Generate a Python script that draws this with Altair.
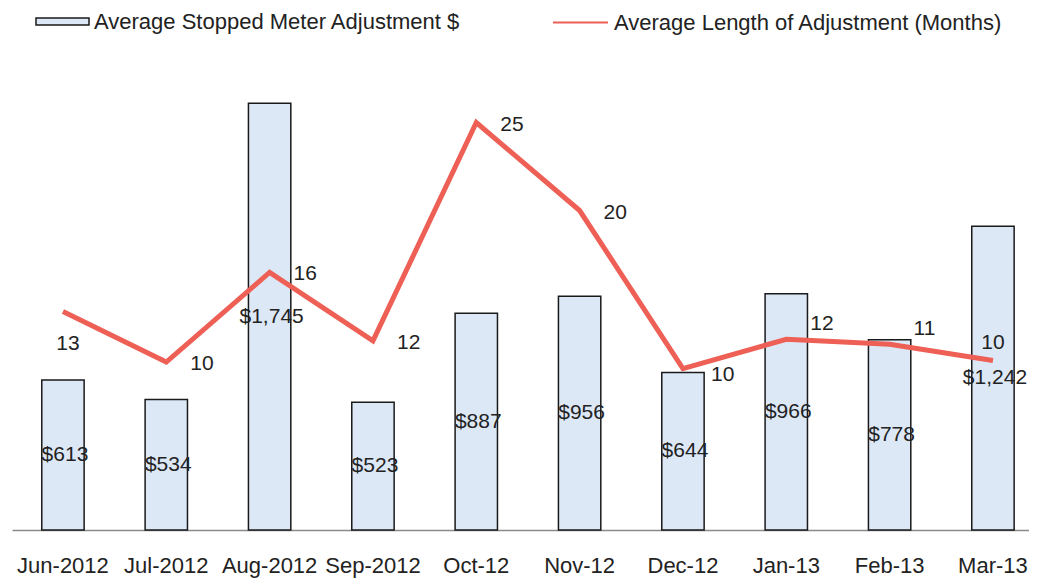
import altair as alt
import pandas as pd

months = ["Jun-2012", "Jul-2012", "Aug-2012", "Sep-2012", "Oct-12",
          "Nov-12", "Dec-12", "Jan-13", "Feb-13", "Mar-13"]
adjustment = [613, 534, 1745, 523, 887, 956, 644, 966, 778, 1242]
length_months = [13.4, 10.3, 15.8, 11.6, 25.0, 19.6, 9.9, 11.7, 11.4, 10.4]

bar_name = "Average Stopped Meter Adjustment $"
line_name = "Average Length of Adjustment (Months)"

df = pd.DataFrame({"month": months, "adj": adjustment, "len": length_months})

FONT = "Liberation Sans"
TXT = "#222222"

x = alt.X("month:N", sort=months,
          scale=alt.Scale(paddingInner=0.59, paddingOuter=0.216, align=0.667),
          axis=alt.Axis(title=None, labelAngle=0, ticks=False, domainColor="#8a8a8a",
                        domainWidth=1.5, labelFontSize=22, labelPadding=25,
                        labelColor=TXT, labelFont=FONT, grid=False))

base = alt.Chart(df)

bars = base.transform_calculate(series=f"'{bar_name}'").mark_bar(
    stroke="#1a1a1a", strokeWidth=1.5
).encode(
    x=x,
    y=alt.Y("adj:Q", scale=alt.Scale(domain=[0, 2000], nice=False), axis=None),
    fill=alt.Fill("series:N", scale=alt.Scale(range=["#DDE8F7"]),
                  legend=alt.Legend(title=None, orient="none", legendX=23, legendY=-47,
                                    symbolType="M-1,-0.13L1,-0.13L1,0.13L-1,0.13Z",
                                    symbolSize=2809, symbolStrokeColor="#1a1a1a",
                                    symbolStrokeWidth=1.5, labelFontSize=22,
                                    labelFont=FONT, labelColor=TXT, labelOffset=4,
                                    labelLimit=600)),
)

bar_labels = base.transform_calculate(mid="datum.adj / 2").mark_text(
    fontSize=21, font=FONT, color=TXT, align="center", baseline="middle", dx=2
).encode(
    x=alt.X("month:N", sort=months),
    y=alt.Y("mid:Q", scale=alt.Scale(domain=[0, 2000], nice=False), axis=None),
    text=alt.Text("adj:Q", format="$,.0f"),
)

bar_layer = alt.layer(bars, bar_labels)

line = base.transform_calculate(series2=f"'{line_name}'").mark_line(
    strokeWidth=5
).encode(
    x=alt.X("month:N", sort=months),
    y=alt.Y("len:Q", scale=alt.Scale(domain=[0, 30], nice=False), axis=None),
    stroke=alt.Stroke("series2:N", scale=alt.Scale(range=["#EE5F55"]),
                      legend=alt.Legend(title=None, orient="none", legendX=540, legendY=-47,
                                        symbolType="stroke", symbolSize=3025,
                                        symbolStrokeWidth=2, labelFontSize=22,
                                        labelFont=FONT, labelColor=TXT, labelOffset=5,
                                        labelLimit=600)),
)

yl = alt.Y("len:Q", scale=alt.Scale(domain=[0, 30], nice=False), axis=None)
tl = alt.Text("len:Q", format=".0f")
xl = alt.X("month:N", sort=months)


def labels(which, align, dx, dy):
    return base.transform_filter(
        alt.FieldOneOfPredicate(field="month", oneOf=which)
    ).mark_text(fontSize=21, font=FONT, color=TXT, align=align, baseline="middle",
                dx=dx, dy=dy).encode(x=xl, y=yl, text=tl)


lab_right = labels(months[1:6], "left", 24, 2)
lab_dec = labels(months[6:7], "left", 28, 6)
lab_upright = labels(months[7:9], "left", 24, -15)
lab_below = labels(months[0:1], "center", 5, 32)
lab_above = labels(months[9:10], "center", 0, -17)

line_layer = alt.layer(line, lab_right, lab_dec, lab_upright, lab_below, lab_above)

chart = alt.layer(bar_layer, line_layer).resolve_scale(
    y="independent"
).properties(
    width=1017, height=489,
    autosize=alt.AutoSizeParams(type="none"),
    padding={"left": 4, "top": 33, "right": 0, "bottom": 48},
    background="white",
).configure_view(stroke=None)

chart.save("out.html", embed_options={"renderer": "svg", "actions": False})
